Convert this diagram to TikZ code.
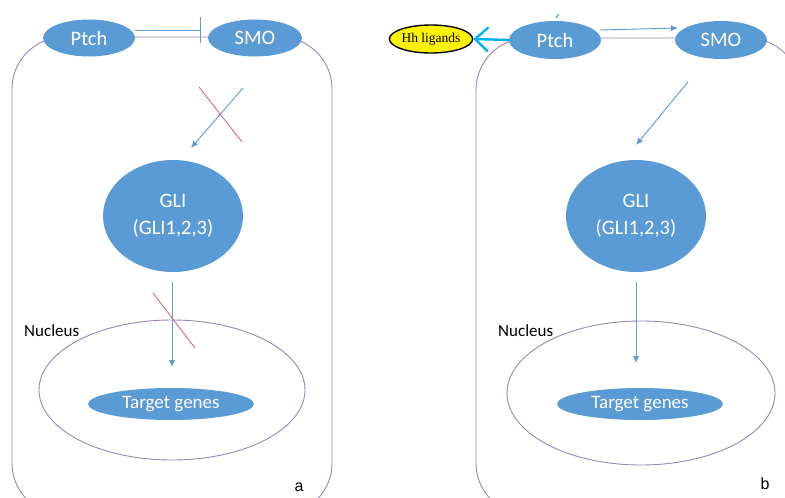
\documentclass[tikz,border=0pt]{standalone}
\usepackage{fontspec}
\setmainfont{Carlito}
\newfontfamily\serifhh{Liberation Serif}
\newfontfamily\arialf{Liberation Sans}
\usetikzlibrary{shapes.geometric,arrows.meta}
\definecolor{nodeblue}{HTML}{5B9BD5}
\definecolor{arrblue}{HTML}{5B9BD5}
\definecolor{cellpurple}{HTML}{9A86B5}
\definecolor{crossred}{HTML}{D9697A}
\definecolor{hhcyan}{HTML}{00B0F0}
\tikzset{
  blob/.style={ellipse, fill=nodeblue, draw=none, inner sep=0pt, text=white, font=\fontsize{20.5}{27}\selectfont, align=center},
  cellb/.style={draw=cellpurple, line width=0.9pt},
  sig/.style={draw=arrblue, line width=0.9pt, -{Latex[length=7pt,width=6pt]}},
  crossl/.style={draw=crossred, line width=0.9pt},
  lbl/.style={font=\fontsize{17}{19}\selectfont, text=black, inner sep=0pt}
}
\begin{document}
\begin{tikzpicture}[x=1pt,y=-1pt]
\useasboundingbox (0,0) rectangle (785,498);
\fill[white] (0,0) rectangle (785,498);
\begin{scope}
\clip (0,0) rectangle (785,498);
% cell borders
\draw[cellb, rounded corners=52pt] (12,37) rectangle (332,515);
\draw[cellb, rounded corners=52pt] (476,38) rectangle (800,515);
% nuclei
\node[ellipse, draw=cellpurple, line width=0.9pt, minimum width=266pt, minimum height=140pt, inner sep=0pt] (nucA) at (172,390) {};
\node[ellipse, draw=cellpurple, line width=0.9pt, minimum width=268pt, minimum height=144pt, inner sep=0pt] (nucB) at (641,393) {};
\end{scope}

% ---------- panel a ----------
\node[blob, minimum width=92pt, minimum height=37pt] (ptchA) at (89,38) {Ptch};
\node[blob, minimum width=94pt, minimum height=37pt] (smoA) at (255,38) {SMO};
\node[blob, minimum width=140pt, minimum height=112pt] (gliA) at (173,216) {GLI\\(GLI1,2,3)};
\node[blob, minimum width=166pt, minimum height=32pt, font=\fontsize{19}{21}\selectfont] (tgA) at (171,404) {Target genes};
\node[lbl, anchor=west] (nlA) at (24,331) {Nucleus};
\node[lbl, font=\arialf\fontsize{16}{18}\selectfont] (la) at (299,487) {a};

\coordinate (inhS) at (135,30);
\coordinate (inhE) at (200,30);
\draw[draw=arrblue, line width=0.9pt] (inhS) -- (inhE);
\draw[draw=arrblue, line width=0.9pt] (200,17) -- (200,43);

\coordinate (a1s) at (243,88);
\coordinate (a1e) at (191,148);
\draw[sig] (a1s) -- (a1e);
\draw[crossl] (199,87) -- (242,142);

\coordinate (a2s) at (172,282);
\coordinate (a2e) at (172,367);
\draw[sig] (a2s) -- (a2e);
\draw[crossl] (153,293) -- (195,348);

% ---------- panel b ----------
\node[blob, minimum width=92pt, minimum height=38pt] (ptchB) at (555,40) {Ptch};
\node[blob, minimum width=92pt, minimum height=38pt] (smoB) at (721,40) {SMO};
\node[blob, minimum width=140pt, minimum height=112pt] (gliB) at (636,216) {GLI\\(GLI1,2,3)};
\node[blob, minimum width=166pt, minimum height=32pt, font=\fontsize{19}{21}\selectfont] (tgB) at (640,404) {Target genes};
\node[lbl, anchor=west] (nlB) at (498,331) {Nucleus};
\node[lbl, font=\arialf\fontsize{16}{18}\selectfont] (lb) at (765,484) {b};

\node[ellipse, fill=yellow, draw=black, line width=1.4pt, inner sep=0pt, minimum width=82pt, minimum height=28pt, font=\serifhh\fontsize{13.5}{15}\selectfont] (hh) at (431,39) {Hh ligands};
\draw[draw=hhcyan, line width=2.4pt, -{Straight Barb[length=13pt,width=24pt,line width=2.4pt]}] (ptchB.west) -- (hh.east);

\coordinate (b0s) at (600,30);
\coordinate (b0e) at (678,28);
\draw[sig] (b0s) -- (b0e);
\draw[draw=arrblue, line width=1.2pt] (556,18) -- (559,14);

\coordinate (b1s) at (688,82);
\coordinate (b1e) at (636,145);
\draw[sig] (b1s) -- (b1e);

\coordinate (b2s) at (636,282);
\coordinate (b2e) at (636,363);
\draw[sig] (b2s) -- (b2e);
\end{tikzpicture}
\end{document}
